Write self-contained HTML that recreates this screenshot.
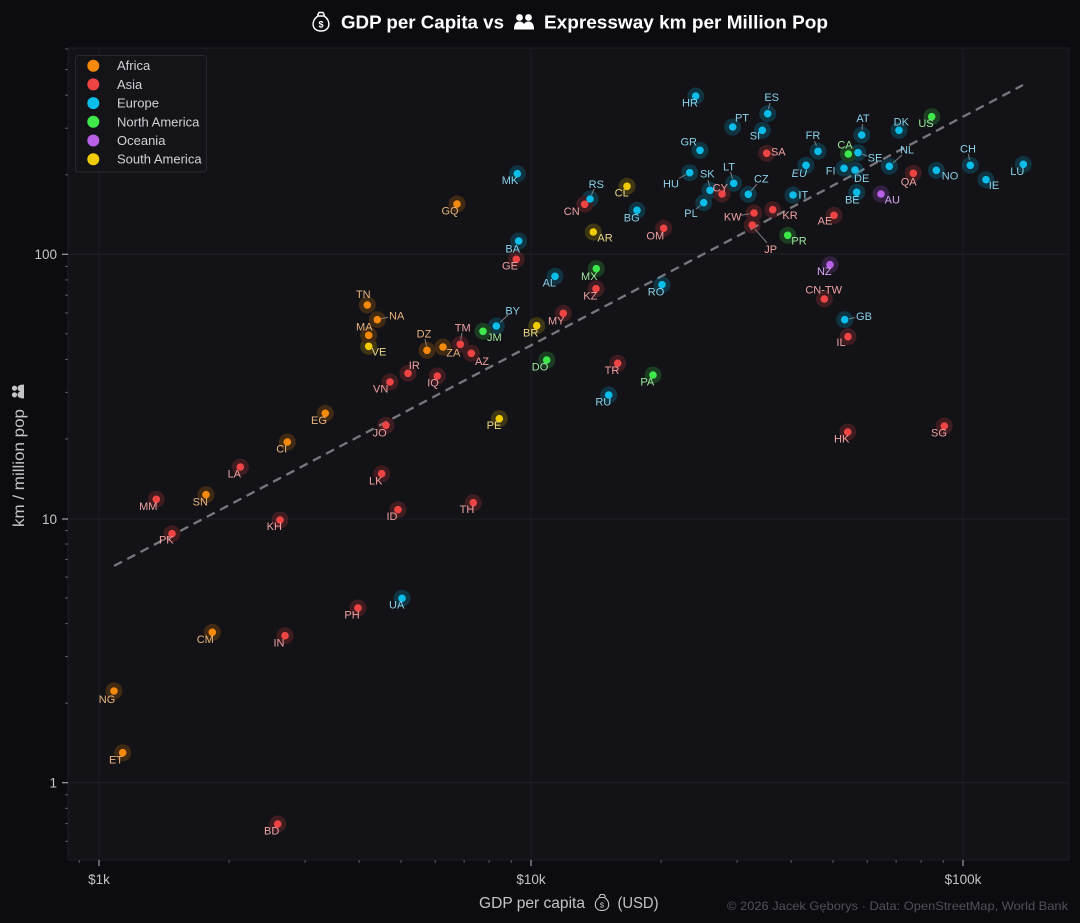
<!DOCTYPE html>
<html><head><meta charset="utf-8"><style>
html,body{margin:0;padding:0;background:#0c0c10;}
svg{display:block;font-family:"Liberation Sans",sans-serif;}
.af{fill:#f5890c}.as{fill:#ef4444}.eu{fill:#0bbde8}.na{fill:#3fe84a}.oc{fill:#b95fe8}.sa{fill:#f0cc06}
.l{font-size:11px;text-anchor:middle}
.taf{fill:#e9b57e}.tas{fill:#f0a2a2}.teu{fill:#8ad2ea}.tna{fill:#9fea9f}.toc{fill:#d6a8f2}.tsa{fill:#ecd985}
.tk{font-size:13.5px;fill:#c4c4c8}
.lg{font-size:13px;fill:#d2d2d6}
</style></head><body>
<svg width="1080" height="923" viewBox="0 0 1080 923" xmlns="http://www.w3.org/2000/svg">
<rect x="0" y="0" width="1080" height="923" fill="#0c0c10"/>
<!-- plot area -->
<rect x="68" y="48" width="1001" height="812" fill="#121217" stroke="#1d1d23" stroke-width="1"/>
<!-- grid -->
<g stroke="#1f1f26" stroke-width="1">
<line x1="99" y1="48" x2="99" y2="860"/><line x1="531" y1="48" x2="531" y2="860"/><line x1="963" y1="48" x2="963" y2="860"/>
<line x1="68" y1="254.3" x2="1069" y2="254.3"/><line x1="68" y1="519" x2="1069" y2="519"/><line x1="68" y1="782.7" x2="1069" y2="782.7"/>
</g>
<!-- ticks -->
<g stroke="#a0a0a6" stroke-width="1.2">
<line x1="99" y1="860" x2="99" y2="866"/><line x1="531" y1="860" x2="531" y2="866"/><line x1="963" y1="860" x2="963" y2="866"/>
<line x1="62" y1="254.3" x2="68" y2="254.3"/><line x1="62" y1="519" x2="68" y2="519"/><line x1="62" y1="782.7" x2="68" y2="782.7"/>
</g>
<g stroke="#5a5a60" stroke-width="1">
<line x1="79.2" y1="860" x2="79.2" y2="863"/><line x1="229.1" y1="860" x2="229.1" y2="863"/><line x1="305.1" y1="860" x2="305.1" y2="863"/><line x1="359.1" y1="860" x2="359.1" y2="863"/><line x1="401" y1="860" x2="401" y2="863"/><line x1="435.2" y1="860" x2="435.2" y2="863"/><line x1="464.1" y1="860" x2="464.1" y2="863"/><line x1="489.1" y1="860" x2="489.1" y2="863"/><line x1="511.2" y1="860" x2="511.2" y2="863"/>
<line x1="661.1" y1="860" x2="661.1" y2="863"/><line x1="737.1" y1="860" x2="737.1" y2="863"/><line x1="791.1" y1="860" x2="791.1" y2="863"/><line x1="833" y1="860" x2="833" y2="863"/><line x1="867.2" y1="860" x2="867.2" y2="863"/><line x1="896.1" y1="860" x2="896.1" y2="863"/><line x1="921.1" y1="860" x2="921.1" y2="863"/><line x1="943.2" y1="860" x2="943.2" y2="863"/>
<line x1="65" y1="841.3" x2="68" y2="841.3"/><line x1="65" y1="823.6" x2="68" y2="823.6"/><line x1="65" y1="808.3" x2="68" y2="808.3"/><line x1="65" y1="794.8" x2="68" y2="794.8"/>
<line x1="65" y1="703.2" x2="68" y2="703.2"/><line x1="65" y1="656.6" x2="68" y2="656.6"/><line x1="65" y1="623.6" x2="68" y2="623.6"/><line x1="65" y1="598" x2="68" y2="598"/><line x1="65" y1="577.1" x2="68" y2="577.1"/><line x1="65" y1="559.4" x2="68" y2="559.4"/><line x1="65" y1="544.1" x2="68" y2="544.1"/><line x1="65" y1="530.6" x2="68" y2="530.6"/>
<line x1="65" y1="439" x2="68" y2="439"/><line x1="65" y1="392.4" x2="68" y2="392.4"/><line x1="65" y1="359.4" x2="68" y2="359.4"/><line x1="65" y1="333.8" x2="68" y2="333.8"/><line x1="65" y1="312.9" x2="68" y2="312.9"/><line x1="65" y1="295.2" x2="68" y2="295.2"/><line x1="65" y1="279.9" x2="68" y2="279.9"/><line x1="65" y1="266.4" x2="68" y2="266.4"/>
<line x1="65" y1="174.8" x2="68" y2="174.8"/><line x1="65" y1="128.2" x2="68" y2="128.2"/><line x1="65" y1="95.2" x2="68" y2="95.2"/><line x1="65" y1="69.6" x2="68" y2="69.6"/><line x1="65" y1="49" x2="68" y2="49"/>
</g>
<!-- tick labels -->
<text class="tk" x="99" y="884" text-anchor="middle">$1k</text>
<text class="tk" x="531" y="884" text-anchor="middle">$10k</text>
<text class="tk" x="963" y="884" text-anchor="middle">$100k</text>
<text class="tk" x="57" y="259" text-anchor="end">100</text>
<text class="tk" x="57" y="524" text-anchor="end">10</text>
<text class="tk" x="57" y="787.5" text-anchor="end">1</text>

<!-- trend line -->
<line x1="114" y1="566" x2="1023" y2="85" stroke="#77777d" stroke-width="2.3" stroke-dasharray="9 6"/>

<!-- leader lines -->
<g stroke="#7c7c82" stroke-width="1">
<line x1="768.5" y1="109" x2="770" y2="103"/>
<line x1="816.5" y1="146" x2="814.5" y2="141"/>
<line x1="862" y1="130" x2="862.5" y2="124"/>
<line x1="862" y1="154" x2="867" y2="156"/>
<line x1="893" y1="163" x2="902" y2="155"/>
<line x1="969.5" y1="160" x2="968.5" y2="154"/>
<line x1="686" y1="174.5" x2="679" y2="178.5"/>
<line x1="709.5" y1="186" x2="708" y2="180"/>
<line x1="732.5" y1="179" x2="730.5" y2="172"/>
<line x1="751" y1="191" x2="757" y2="184"/>
<line x1="700.5" y1="205.5" x2="696" y2="209"/>
<line x1="749.5" y1="213.8" x2="741" y2="215.3"/>
<line x1="755" y1="229" x2="767" y2="243"/>
<line x1="591.5" y1="195" x2="594" y2="189"/>
<line x1="426.5" y1="346" x2="425" y2="339"/>
<line x1="460.6" y1="340" x2="462" y2="333"/>
<line x1="500" y1="322.5" x2="508" y2="315"/>
<line x1="849" y1="319" x2="855" y2="317.5"/>
<line x1="381" y1="318.8" x2="388" y2="317.3"/>
</g>

<!-- halos -->
<g opacity="0.2">
<circle class="eu" cx="695.7" cy="96" r="8.5"/><circle class="eu" cx="767.7" cy="113.7" r="8.5"/><circle class="eu" cx="732.7" cy="127" r="8.5"/><circle class="eu" cx="762.3" cy="130.3" r="8.5"/><circle class="eu" cx="700" cy="150.3" r="8.5"/><circle class="eu" cx="818" cy="151.3" r="8.5"/><circle class="eu" cx="861.7" cy="135" r="8.5"/><circle class="eu" cx="899" cy="130.3" r="8.5"/><circle class="eu" cx="858" cy="152.7" r="8.5"/><circle class="eu" cx="889.3" cy="166.3" r="8.5"/><circle class="eu" cx="970.3" cy="165.3" r="8.5"/><circle class="eu" cx="1023.3" cy="164.3" r="8.5"/><circle class="eu" cx="936.3" cy="170.3" r="8.5"/><circle class="eu" cx="986" cy="179.7" r="8.5"/><circle class="eu" cx="689.7" cy="172.7" r="8.5"/><circle class="eu" cx="710" cy="190.3" r="8.5"/><circle class="eu" cx="733.7" cy="183.3" r="8.5"/><circle class="eu" cx="748.3" cy="194.3" r="8.5"/><circle class="eu" cx="703.7" cy="202.7" r="8.5"/><circle class="eu" cx="806" cy="165.3" r="8.5"/><circle class="eu" cx="844" cy="168.3" r="8.5"/><circle class="eu" cx="855" cy="170" r="8.5"/><circle class="eu" cx="793" cy="195" r="8.5"/><circle class="eu" cx="856.7" cy="192.3" r="8.5"/><circle class="eu" cx="517.3" cy="173.7" r="8.5"/><circle class="eu" cx="590" cy="199" r="8.5"/><circle class="eu" cx="637" cy="210.3" r="8.5"/><circle class="eu" cx="518.7" cy="241" r="8.5"/><circle class="eu" cx="555" cy="276.3" r="8.5"/><circle class="eu" cx="662" cy="284.7" r="8.5"/><circle class="eu" cx="496.3" cy="326" r="8.5"/><circle class="eu" cx="608.7" cy="395" r="8.5"/><circle class="eu" cx="402" cy="598.3" r="8.5"/><circle class="eu" cx="844.7" cy="319.7" r="8.5"/>
<circle class="as" cx="766.7" cy="153.3" r="8.5"/><circle class="as" cx="913.3" cy="173.3" r="8.5"/><circle class="as" cx="722" cy="194" r="8.5"/><circle class="as" cx="754" cy="213" r="8.5"/><circle class="as" cx="772.7" cy="209.7" r="8.5"/><circle class="as" cx="752.3" cy="225" r="8.5"/><circle class="as" cx="834" cy="215.3" r="8.5"/><circle class="as" cx="663.7" cy="228.3" r="8.5"/><circle class="as" cx="584.7" cy="204.3" r="8.5"/><circle class="as" cx="516.3" cy="259.3" r="8.5"/><circle class="as" cx="596" cy="288.7" r="8.5"/><circle class="as" cx="563.3" cy="313.3" r="8.5"/><circle class="as" cx="617.7" cy="363.3" r="8.5"/><circle class="as" cx="460.3" cy="344.3" r="8.5"/><circle class="as" cx="471.3" cy="353.3" r="8.5"/><circle class="as" cx="408" cy="373.3" r="8.5"/><circle class="as" cx="390" cy="382" r="8.5"/><circle class="as" cx="437.3" cy="376" r="8.5"/><circle class="as" cx="386" cy="425.3" r="8.5"/><circle class="as" cx="240.3" cy="467" r="8.5"/><circle class="as" cx="381.7" cy="473.7" r="8.5"/><circle class="as" cx="156.3" cy="499.3" r="8.5"/><circle class="as" cx="473.3" cy="502.7" r="8.5"/><circle class="as" cx="398" cy="509.7" r="8.5"/><circle class="as" cx="280" cy="520" r="8.5"/><circle class="as" cx="172" cy="533.7" r="8.5"/><circle class="as" cx="358" cy="608" r="8.5"/><circle class="as" cx="285" cy="635.7" r="8.5"/><circle class="as" cx="277.7" cy="824" r="8.5"/><circle class="as" cx="824.3" cy="299" r="8.5"/><circle class="as" cx="848" cy="336.7" r="8.5"/><circle class="as" cx="847.7" cy="432" r="8.5"/><circle class="as" cx="944.3" cy="426" r="8.5"/>
<circle class="na" cx="931.7" cy="116.7" r="8.5"/><circle class="na" cx="848.3" cy="154" r="8.5"/><circle class="na" cx="787.7" cy="235.3" r="8.5"/><circle class="na" cx="596.3" cy="268.7" r="8.5"/><circle class="na" cx="483" cy="331.3" r="8.5"/><circle class="na" cx="546.7" cy="360" r="8.5"/><circle class="na" cx="653" cy="375" r="8.5"/>
<circle class="sa" cx="627" cy="186.3" r="8.5"/><circle class="sa" cx="593.3" cy="232" r="8.5"/><circle class="sa" cx="536.7" cy="325.7" r="8.5"/><circle class="sa" cx="368.7" cy="346.3" r="8.5"/><circle class="sa" cx="499.3" cy="418.7" r="8.5"/>
<circle class="oc" cx="881" cy="194" r="8.5"/><circle class="oc" cx="830" cy="264.7" r="8.5"/>
<circle class="af" cx="457" cy="204" r="8.5"/><circle class="af" cx="367.3" cy="305" r="8.5"/><circle class="af" cx="377.3" cy="319.7" r="8.5"/><circle class="af" cx="368.7" cy="335.3" r="8.5"/><circle class="af" cx="427" cy="350.3" r="8.5"/><circle class="af" cx="443" cy="347" r="8.5"/><circle class="af" cx="325.3" cy="413.3" r="8.5"/><circle class="af" cx="287.3" cy="442" r="8.5"/><circle class="af" cx="206" cy="494.7" r="8.5"/><circle class="af" cx="212.3" cy="632.3" r="8.5"/><circle class="af" cx="114" cy="691" r="8.5"/><circle class="af" cx="122.7" cy="752.7" r="8.5"/>
</g>
<!-- dots -->
<g>
<circle class="eu" cx="695.7" cy="96" r="3.8"/><circle class="eu" cx="767.7" cy="113.7" r="3.8"/><circle class="eu" cx="732.7" cy="127" r="3.8"/><circle class="eu" cx="762.3" cy="130.3" r="3.8"/><circle class="eu" cx="700" cy="150.3" r="3.8"/><circle class="eu" cx="818" cy="151.3" r="3.8"/><circle class="eu" cx="861.7" cy="135" r="3.8"/><circle class="eu" cx="899" cy="130.3" r="3.8"/><circle class="eu" cx="858" cy="152.7" r="3.8"/><circle class="eu" cx="889.3" cy="166.3" r="3.8"/><circle class="eu" cx="970.3" cy="165.3" r="3.8"/><circle class="eu" cx="1023.3" cy="164.3" r="3.8"/><circle class="eu" cx="936.3" cy="170.3" r="3.8"/><circle class="eu" cx="986" cy="179.7" r="3.8"/><circle class="eu" cx="689.7" cy="172.7" r="3.8"/><circle class="eu" cx="710" cy="190.3" r="3.8"/><circle class="eu" cx="733.7" cy="183.3" r="3.8"/><circle class="eu" cx="748.3" cy="194.3" r="3.8"/><circle class="eu" cx="703.7" cy="202.7" r="3.8"/><circle class="eu" cx="806" cy="165.3" r="3.8"/><circle class="eu" cx="844" cy="168.3" r="3.8"/><circle class="eu" cx="855" cy="170" r="3.8"/><circle class="eu" cx="793" cy="195" r="3.8"/><circle class="eu" cx="856.7" cy="192.3" r="3.8"/><circle class="eu" cx="517.3" cy="173.7" r="3.8"/><circle class="eu" cx="590" cy="199" r="3.8"/><circle class="eu" cx="637" cy="210.3" r="3.8"/><circle class="eu" cx="518.7" cy="241" r="3.8"/><circle class="eu" cx="555" cy="276.3" r="3.8"/><circle class="eu" cx="662" cy="284.7" r="3.8"/><circle class="eu" cx="496.3" cy="326" r="3.8"/><circle class="eu" cx="608.7" cy="395" r="3.8"/><circle class="eu" cx="402" cy="598.3" r="3.8"/><circle class="eu" cx="844.7" cy="319.7" r="3.8"/>
<circle class="as" cx="766.7" cy="153.3" r="3.8"/><circle class="as" cx="913.3" cy="173.3" r="3.8"/><circle class="as" cx="722" cy="194" r="3.8"/><circle class="as" cx="754" cy="213" r="3.8"/><circle class="as" cx="772.7" cy="209.7" r="3.8"/><circle class="as" cx="752.3" cy="225" r="3.8"/><circle class="as" cx="834" cy="215.3" r="3.8"/><circle class="as" cx="663.7" cy="228.3" r="3.8"/><circle class="as" cx="584.7" cy="204.3" r="3.8"/><circle class="as" cx="516.3" cy="259.3" r="3.8"/><circle class="as" cx="596" cy="288.7" r="3.8"/><circle class="as" cx="563.3" cy="313.3" r="3.8"/><circle class="as" cx="617.7" cy="363.3" r="3.8"/><circle class="as" cx="460.3" cy="344.3" r="3.8"/><circle class="as" cx="471.3" cy="353.3" r="3.8"/><circle class="as" cx="408" cy="373.3" r="3.8"/><circle class="as" cx="390" cy="382" r="3.8"/><circle class="as" cx="437.3" cy="376" r="3.8"/><circle class="as" cx="386" cy="425.3" r="3.8"/><circle class="as" cx="240.3" cy="467" r="3.8"/><circle class="as" cx="381.7" cy="473.7" r="3.8"/><circle class="as" cx="156.3" cy="499.3" r="3.8"/><circle class="as" cx="473.3" cy="502.7" r="3.8"/><circle class="as" cx="398" cy="509.7" r="3.8"/><circle class="as" cx="280" cy="520" r="3.8"/><circle class="as" cx="172" cy="533.7" r="3.8"/><circle class="as" cx="358" cy="608" r="3.8"/><circle class="as" cx="285" cy="635.7" r="3.8"/><circle class="as" cx="277.7" cy="824" r="3.8"/><circle class="as" cx="824.3" cy="299" r="3.8"/><circle class="as" cx="848" cy="336.7" r="3.8"/><circle class="as" cx="847.7" cy="432" r="3.8"/><circle class="as" cx="944.3" cy="426" r="3.8"/>
<circle class="na" cx="931.7" cy="116.7" r="3.8"/><circle class="na" cx="848.3" cy="154" r="3.8"/><circle class="na" cx="787.7" cy="235.3" r="3.8"/><circle class="na" cx="596.3" cy="268.7" r="3.8"/><circle class="na" cx="483" cy="331.3" r="3.8"/><circle class="na" cx="546.7" cy="360" r="3.8"/><circle class="na" cx="653" cy="375" r="3.8"/>
<circle class="sa" cx="627" cy="186.3" r="3.8"/><circle class="sa" cx="593.3" cy="232" r="3.8"/><circle class="sa" cx="536.7" cy="325.7" r="3.8"/><circle class="sa" cx="368.7" cy="346.3" r="3.8"/><circle class="sa" cx="499.3" cy="418.7" r="3.8"/>
<circle class="oc" cx="881" cy="194" r="3.8"/><circle class="oc" cx="830" cy="264.7" r="3.8"/>
<circle class="af" cx="457" cy="204" r="3.8"/><circle class="af" cx="367.3" cy="305" r="3.8"/><circle class="af" cx="377.3" cy="319.7" r="3.8"/><circle class="af" cx="368.7" cy="335.3" r="3.8"/><circle class="af" cx="427" cy="350.3" r="3.8"/><circle class="af" cx="443" cy="347" r="3.8"/><circle class="af" cx="325.3" cy="413.3" r="3.8"/><circle class="af" cx="287.3" cy="442" r="3.8"/><circle class="af" cx="206" cy="494.7" r="3.8"/><circle class="af" cx="212.3" cy="632.3" r="3.8"/><circle class="af" cx="114" cy="691" r="3.8"/><circle class="af" cx="122.7" cy="752.7" r="3.8"/>
</g>
<!-- labels -->
<g class="l">
<text class="teu" x="690" y="106.7">HR</text><text class="teu" x="771.7" y="101">ES</text><text class="teu" x="742" y="121.7">PT</text><text class="teu" x="755" y="139.7">SI</text><text class="teu" x="688.7" y="145.7">GR</text><text class="teu" x="813" y="139">FR</text><text class="teu" x="863" y="122">AT</text><text class="teu" x="901.3" y="125.7">DK</text><text class="teu" x="875" y="161.7">SE</text><text class="teu" x="907" y="153.3">NL</text><text class="teu" x="968" y="152.3">CH</text><text class="teu" x="1017.3" y="175">LU</text><text class="teu" x="950" y="179.7">NO</text><text class="teu" x="994" y="189">IE</text><text class="teu" x="671" y="187.3">HU</text><text class="teu" x="707.3" y="177.7">SK</text><text class="teu" x="729" y="170.3">LT</text><text class="teu" x="761.3" y="182.3">CZ</text><text class="teu" x="691" y="217">PL</text><text class="teu" x="799.3" y="177" font-style="italic">EU</text><text class="teu" x="830.7" y="174.3">FI</text><text class="teu" x="861.7" y="182">DE</text><text class="teu" x="803.3" y="198.3">IT</text><text class="teu" x="852.3" y="203.7">BE</text><text class="teu" x="510" y="184">MK</text><text class="teu" x="596.3" y="188">RS</text><text class="teu" x="631.7" y="221.3">BG</text><text class="teu" x="512.7" y="252.3">BA</text><text class="teu" x="549.3" y="286.7">AL</text><text class="teu" x="656" y="295.3">RO</text><text class="teu" x="512.7" y="314.3">BY</text><text class="teu" x="603.3" y="405.7">RU</text><text class="teu" x="396.7" y="608.7">UA</text><text class="teu" x="864" y="320">GB</text>
<text class="tas" x="778.3" y="155.3">SA</text><text class="tas" x="908.7" y="185.7">QA</text><text class="tas" x="720.3" y="191.7">CY</text><text class="tas" x="732.7" y="220.7">KW</text><text class="tas" x="790" y="219">KR</text><text class="tas" x="770.7" y="253">JP</text><text class="tas" x="825" y="224.7">AE</text><text class="tas" x="655.3" y="239.3">OM</text><text class="tas" x="571.7" y="215">CN</text><text class="tas" x="510" y="269.7">GE</text><text class="tas" x="590.3" y="299.7">KZ</text><text class="tas" x="556.3" y="324.3">MY</text><text class="tas" x="612" y="374">TR</text><text class="tas" x="462.7" y="331.7">TM</text><text class="tas" x="482" y="365">AZ</text><text class="tas" x="414.3" y="369">IR</text><text class="tas" x="380.7" y="392.3">VN</text><text class="tas" x="433" y="386.7">IQ</text><text class="tas" x="379.7" y="436.3">JO</text><text class="tas" x="234.3" y="477.3">LA</text><text class="tas" x="375.7" y="484.3">LK</text><text class="tas" x="148.3" y="510">MM</text><text class="tas" x="467" y="513">TH</text><text class="tas" x="392" y="520">ID</text><text class="tas" x="274.3" y="530">KH</text><text class="tas" x="166.3" y="543.7">PK</text><text class="tas" x="352" y="618.3">PH</text><text class="tas" x="279" y="646.3">IN</text><text class="tas" x="271.7" y="834.3">BD</text><text class="tas" x="823.7" y="293.7">CN-TW</text><text class="tas" x="841" y="346">IL</text><text class="tas" x="841.7" y="442.3">HK</text><text class="tas" x="939" y="436.7">SG</text>
<text class="tna" x="926" y="127">US</text><text class="tna" x="845" y="148.7">CA</text><text class="tna" x="799" y="244.3">PR</text><text class="tna" x="589.3" y="280">MX</text><text class="tna" x="494.3" y="341">JM</text><text class="tna" x="540" y="370.7">DO</text><text class="tna" x="647.3" y="385.3">PA</text>
<text class="tsa" x="621.7" y="196.7">CL</text><text class="tsa" x="605" y="241.3">AR</text><text class="tsa" x="530.7" y="336.7">BR</text><text class="tsa" x="379" y="355.7">VE</text><text class="tsa" x="494" y="429">PE</text>
<text class="toc" x="892.3" y="203.3">AU</text><text class="toc" x="824.3" y="275">NZ</text>
<text class="taf" x="450" y="214.7">GQ</text><text class="taf" x="363.3" y="298">TN</text><text class="taf" x="396.7" y="319.3">NA</text><text class="taf" x="364.3" y="330.7">MA</text><text class="taf" x="424" y="337.3">DZ</text><text class="taf" x="453.3" y="356.7">ZA</text><text class="taf" x="319" y="424">EG</text><text class="taf" x="281.7" y="452.7">CI</text><text class="taf" x="200.3" y="505.3">SN</text><text class="taf" x="205.3" y="643">CM</text><text class="taf" x="107" y="703">NG</text><text class="taf" x="116" y="763.3">ET</text>
</g>

<!-- legend -->
<rect x="75.5" y="55.5" width="131" height="116.5" rx="3" fill="#131318" stroke="#28282e" stroke-width="1"/>
<circle class="af" cx="93.3" cy="65.7" r="6"/><text class="lg" x="117" y="70.2">Africa</text>
<circle class="as" cx="93.3" cy="84.4" r="6"/><text class="lg" x="117" y="88.9">Asia</text>
<circle class="eu" cx="93.3" cy="103.1" r="6"/><text class="lg" x="117" y="107.6">Europe</text>
<circle class="na" cx="93.3" cy="121.8" r="6"/><text class="lg" x="117" y="126.3">North America</text>
<circle class="oc" cx="93.3" cy="140.5" r="6"/><text class="lg" x="117" y="145">Oceania</text>
<circle class="sa" cx="93.3" cy="159.2" r="6"/><text class="lg" x="117" y="163.7">South America</text>

<!-- title -->
<g fill="none" stroke="#ffffff" stroke-width="1.4">
<path d="M317.5 15.5 L319 12.5 L323 12.5 L324.5 15.5"/>
<path d="M318 16 C311 20 311 31 321 31 C331 31 331 20 324 16 Z"/>
</g>
<text x="321" y="27.5" font-size="9" font-weight="bold" fill="#ffffff" text-anchor="middle">$</text>
<text x="341" y="28.5" font-size="18" font-weight="bold" fill="#ffffff" textLength="163" lengthAdjust="spacingAndGlyphs">GDP per Capita vs</text>
<g fill="#ffffff">
<circle cx="519.5" cy="17.5" r="3.4"/><circle cx="528.5" cy="17.5" r="3.4"/>
<path d="M514 29.5 Q514 21.5 519.5 21.5 Q525 21.5 525 29.5 Z"/>
<path d="M523 29.5 Q523 21.5 528.5 21.5 Q534 21.5 534 29.5 Z"/>
</g>
<text x="544" y="28.5" font-size="18" font-weight="bold" fill="#ffffff" textLength="284" lengthAdjust="spacingAndGlyphs">Expressway km per Million Pop</text>

<!-- x axis label -->
<text x="479" y="908" font-size="16" fill="#c4c4c8" textLength="106" lengthAdjust="spacingAndGlyphs">GDP per capita</text>
<g fill="none" stroke="#c4c4c8" stroke-width="1.1">
<path d="M599 897 L600.5 894.5 L604 894.5 L605.5 897"/>
<path d="M599.5 897.5 C593.5 901 593.5 910.5 602 910.5 C610.5 910.5 610.5 901 604.5 897.5 Z"/>
</g>
<text x="602" y="907.5" font-size="7.5" fill="#c4c4c8" text-anchor="middle">$</text>
<text x="617.5" y="908" font-size="16" fill="#c4c4c8" textLength="41" lengthAdjust="spacingAndGlyphs">(USD)</text>

<!-- y axis label -->
<text transform="translate(24,527) rotate(-90)" x="0" y="0" font-size="16" fill="#c4c4c8" textLength="118" lengthAdjust="spacingAndGlyphs">km / million pop</text>
<g fill="#c4c4c8" transform="translate(18,391.5) rotate(-90)">
<circle cx="-3.3" cy="-3.5" r="2.6"/><circle cx="3.3" cy="-3.5" r="2.6"/>
<path d="M-7 6 Q-7 -0.5 -3.3 -0.5 Q0.4 -0.5 0.4 6 Z"/>
<path d="M-0.4 6 Q-0.4 -0.5 3.3 -0.5 Q7 -0.5 7 6 Z"/>
</g>

<!-- credit -->
<text x="727" y="910" font-size="12" fill="#505058" textLength="341" lengthAdjust="spacingAndGlyphs">© 2026 Jacek Gęborys  ·  Data: OpenStreetMap, World Bank</text>
</svg>
</body></html>
